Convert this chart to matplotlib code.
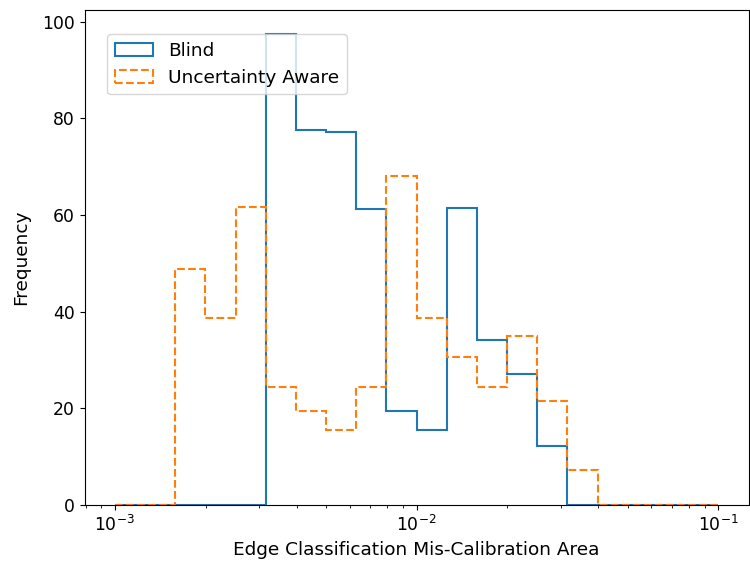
import numpy as np
import matplotlib
matplotlib.use("Agg")
import matplotlib.pyplot as plt

bin_edges = np.logspace(-3, -1, 21)
bin_centers = np.sqrt(bin_edges[:-1] * bin_edges[1:])
blind = [0, 0, 0, 0, 0, 97.5, 77.6, 77.1, 61.2, 19.5, 15.6, 61.4, 34.1, 27.2, 12.3, 0, 0, 0, 0, 0]
aware = [0, 0, 48.8, 38.8, 61.6, 24.5, 19.4, 15.5, 24.5, 68.1, 38.8, 30.7, 24.4, 34.9, 21.6, 7.3, 0, 0, 0, 0]

fig, ax = plt.subplots(figsize=(7.5, 5.67), dpi=100)
ax.hist(bin_centers, bins=bin_edges, weights=blind, histtype='step', color='#1f77b4',
        linewidth=1.5, label='Blind')
ax.hist(bin_centers, bins=bin_edges, weights=aware, histtype='step', color='#ff7f0e',
        linewidth=1.5, linestyle='--', label='Uncertainty Aware')
ax.set_xscale('log')
ax.set_xlabel('Edge Classification Mis-Calibration Area', fontsize=13.3)
ax.set_ylabel('Frequency', fontsize=13.3, labelpad=9)
ax.tick_params(labelsize=12.4)
ax.legend(loc='upper left', bbox_to_anchor=(0.02, 0.97), fontsize=13.3, handlelength=2.1)
fig.subplots_adjust(left=0.113, right=0.998, top=0.982, bottom=0.109)
fig.savefig('out.png')
